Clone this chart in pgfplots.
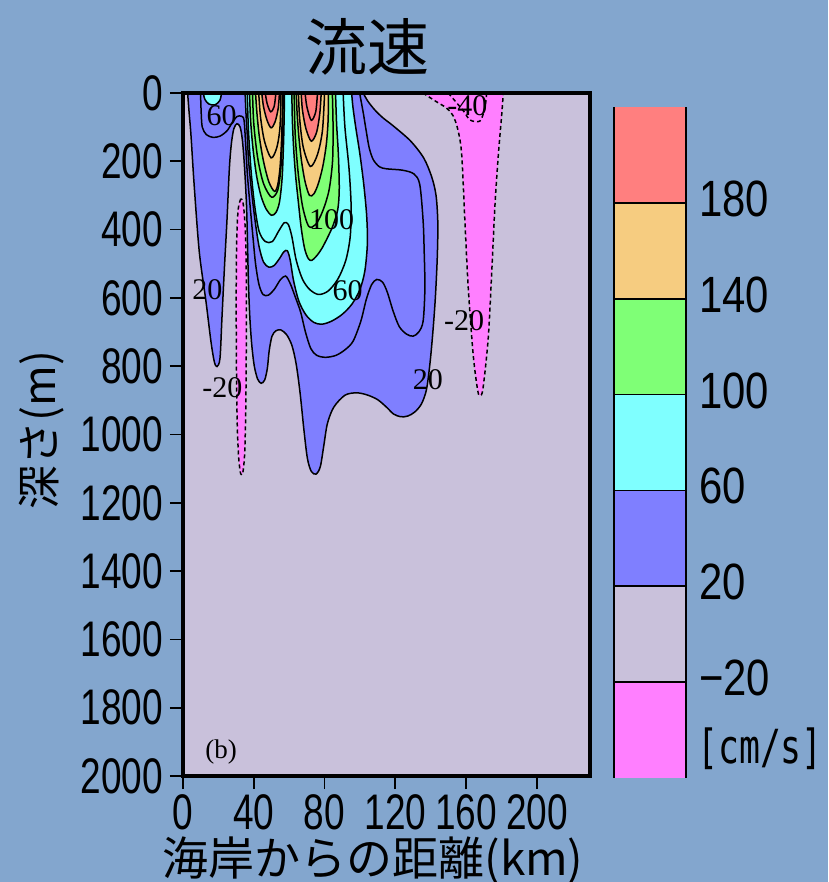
\documentclass[border=0pt]{standalone}
\usepackage{pgfplots}
\pgfplotsset{compat=1.18}
\usepackage{fontspec}
\newfontfamily\tickfont[FakeStretch=0.74]{Liberation Sans}
\newfontfamily\cbfont[FakeStretch=0.82]{Liberation Sans}
\newfontfamily\unitfont[FakeStretch=0.74]{DejaVu Sans Mono}
\newfontfamily\jpfont{Noto Sans CJK JP}
\newfontfamily\labfont{Liberation Serif}
\definecolor{bgc}{RGB}{131,166,206}
\definecolor{lav}{RGB}{201,193,219}
\definecolor{cblue}{RGB}{127,127,255}
\definecolor{ccyan}{RGB}{127,255,255}
\definecolor{cgreen}{RGB}{127,255,118}
\definecolor{corange}{RGB}{246,204,128}
\definecolor{cred}{RGB}{255,127,127}
\definecolor{cmag}{RGB}{255,127,255}
\begin{document}
\begin{tikzpicture}[x=1pt,y=1pt,
  clab/.style={font=\labfont\fontsize{30}{30}\selectfont, inner sep=0pt}]
\fill[bgc] (0,0) rectangle (828,882);
\path[use as bounding box] (0,0) rectangle (828,882);
\begin{axis}[
  at={(183pt,106pt)}, anchor=south west, scale only axis,
  width=407pt, height=683pt,
  xmin=0, xmax=230, ymin=0, ymax=2000, y dir=reverse,
  axis background/.style={fill=lav},
  axis on top,
  axis line style={line width=4pt},
  xtick={0,40,80,120,160,200}, xticklabels={0,40,80,120,160,200},
  ytick={0,200,...,2000},
  yticklabels={0,200,400,600,800,1000,1200,1400,1600,1800,2000},
  xtick pos=bottom, ytick pos=left, tick align=outside,
  major tick length=13pt,
  major tick style={line width=1.8pt, black},
  tick label style={font=\tickfont\fontsize{50}{50}\selectfont, inner sep=0pt},
  yticklabel style={xshift=-7pt},
  xticklabel style={yshift=-5pt},
  cline/.style={draw=black, line width=1.5pt, smooth},
  nline/.style={draw=black, line width=1.5pt, smooth, dash pattern=on 4pt off 3pt},
]
% 20 contour (blue)
\addplot[cline, fill=cblue] coordinates {
(2.6,0) (3.5,60) (4.5,123) (6.3,269) (9.2,465) (13.0,611) (15.8,728) (17.7,787) (19.2,801) (20.9,777) (22.0,660) (23.4,513) (24.9,367) (26.2,221) (27.3,150) (28.7,105) (30.5,90) (32.3,100) (33.6,140) (34.8,220) (35.9,330) (36.5,450) (37.0,560) (37.8,660) (38.9,740) (40.3,800) (42.2,838) (44.2,850) (46.2,840) (47.7,805) (48.7,755) (50.3,712) (52.6,696) (55.4,694) (58.6,708) (61.6,740) (64,795) (66.2,880) (68.3,985) (70.3,1070) (72.5,1108) (75.2,1116) (77.6,1094) (79.5,1035) (81.6,968) (85.2,920) (91.5,885) (98,878) (104,884) (110,898) (115,920) (119,940) (123,948) (127,946) (131,934) (134.8,910) (137.6,868) (139.6,790) (141.2,700) (142.6,600) (143.7,480) (144,380) (143,300) (140.5,245) (136,190) (128.5,140) (118.5,95) (113.5,75) (108.8,52) (104.6,25) (101.8,0)};
% 40 line
\addplot[cline] coordinates {
(9.9,0) (10.3,60) (10.9,100) (13.2,122) (17,130) (21,126) (25,110) (27.9,86) (30.5,69) (33,68) (34.5,80) (35.4,150) (36.4,240) (37.9,330) (39.5,420) (41,500) (42.9,560) (45.2,590) (48.2,592) (51.6,575) (55,547) (58,536) (60.6,558) (63.5,598) (66.5,642) (69.2,700) (72.2,748) (75.5,768) (80.5,774) (86.6,768) (92,750) (96.2,726) (100.5,668) (103.6,604) (106.6,561) (109.5,546) (112.8,554) (115.5,584) (118.7,638) (122.2,684) (126.3,706) (130,712) (133.2,700) (135.7,668) (136.7,571) (136.3,465) (135.7,375) (133.8,268) (130.5,237) (124,226) (115,222) (111,216) (107.5,195) (105.2,160) (103.5,110) (102,62) (100.7,25) (99.8,0)};
% small cyan blob near coast
\addplot[cline, fill=ccyan] coordinates {(11.5,0) (12.3,18) (14.5,32) (18,35) (20.8,22) (21.8,0)};
% 60 contour (cyan)
\addplot[cline, fill=ccyan] coordinates {
(35.1,0) (35.6,60) (36.3,120) (37.1,200) (38.8,290) (40.9,380) (43,450) (45.5,495) (48.5,510) (51.5,505) (54.5,485) (57,465) (59,462) (60.6,490) (62.5,550) (65.5,610) (69.5,650) (74,672) (78.5,677) (84,668) (90,648) (95.5,618) (100,575) (102.8,520) (104.2,440) (103.8,360) (102.2,270) (100,180) (97.6,100) (96,40) (95.3,0)};
% 80 line
\addplot[cline] coordinates {
(36.3,0) (37,110) (38.5,230) (40.5,330) (43,405) (46.5,435) (50.5,435) (54,405) (57.2,380) (59.5,385) (61.5,420) (64,490) (67.5,545) (71.5,575) (76.5,590) (82,580) (87.5,545) (92,490) (94.5,420) (95,330) (93.8,220) (91.5,100) (90.5,0)};
% 100 contour (green)
\addplot[cline, fill=cgreen] coordinates {
(37.6,0) (38.2,80) (39.5,160) (41.5,240) (44,300) (47,340) (50,358) (52.5,350) (54.5,320) (56,250) (56.8,150) (57.2,60) (57.3,0)};
\addplot[cline, fill=cgreen] coordinates {
(61.5,0) (61.8,80) (62.5,160) (63.6,240) (65.2,320) (66.8,395) (68.7,455) (70.8,485) (72.8,490) (75.5,477) (78.5,455) (82,420) (85,385) (87.5,340) (88.3,280) (87.8,180) (86.8,90) (86.2,0)};
% 120 lines
\addplot[cline] coordinates {(39.3,0) (40,90) (42.2,190) (45.5,265) (50,305) (53.5,285) (55.3,220) (56.3,110) (56.6,0)};
\addplot[cline] coordinates {(62.8,0) (63.4,120) (65,230) (67.5,330) (71,390) (75,385) (79,345) (82.5,285) (84.5,200) (84.8,100) (84.4,0)};
% 140 contour (orange)
\addplot[cline, fill=corange] coordinates {
(41,0) (41.8,60) (43.2,130) (45.5,200) (48.5,260) (51.7,288) (53.5,270) (54.8,220) (55.6,150) (56.1,70) (56.4,0)};
\addplot[cline, fill=corange] coordinates {
(64,0) (64.5,60) (65.5,130) (67,200) (69,260) (71.5,300) (74,295) (76.5,265) (79,215) (81,150) (82,80) (82.2,0)};
% 160 lines
\addplot[cline] coordinates {(42.8,0) (43.8,70) (46,140) (49.8,190) (53,160) (54.8,100) (55.4,0)};
\addplot[cline] coordinates {(65.2,0) (66,80) (68,160) (72,215) (76,180) (78.8,110) (80,0)};
% 180 contour (red)
\addplot[cline, fill=cred] coordinates {(44.5,0) (45.5,40) (47.5,80) (49.8,102) (52,85) (53.8,45) (54.5,0)};
\addplot[cline, fill=cred] coordinates {(66.8,0) (67.5,50) (69.5,105) (72.5,141) (75.5,115) (77.3,60) (78.1,0)};
% 200 lines
\addplot[cline] coordinates {(46.5,0) (47.5,30) (49.5,55) (51.5,40) (52.5,0)};
\addplot[cline] coordinates {(69,0) (70,40) (72.5,80) (75,55) (76,0)};
% -20 contours (magenta)
\addplot[nline, fill=cmag] coordinates {
(32.6,310) (31.2,340) (30.4,420) (30.1,550) (30.1,700) (30.3,850) (30.7,980) (31.5,1070) (32.6,1115) (33.8,1112) (34.8,1060) (35.4,950) (35.7,800) (35.8,650) (35.7,500) (35.2,400) (34.3,335) (33.4,312) (32.6,310)};
\addplot[nline, fill=cmag] coordinates {
(135.6,0) (142.4,23) (148.9,44) (152.7,67) (155.5,111) (157.5,181) (159.3,375) (161.2,571) (164,767) (166.5,870) (167.8,886) (169.5,866) (172.5,717) (174.5,521) (176.3,328) (178.2,181) (180.1,64) (181,0)};
% -40 line
\addplot[nline] coordinates {(149.9,0) (158.4,52) (162.2,79) (167.8,82) (170.6,44) (171.6,0)};
% contour labels
\node[clab] at (axis cs:21.8,66) {60};
\node[clab] at (axis cs:13.8,577) {20};
\node[clab] at (axis cs:22.2,862) {-20};
\node[clab] at (axis cs:84,370) {100};
\node[clab] at (axis cs:93,580) {60};
\node[clab] at (axis cs:158.8,666) {-20};
\node[clab] at (axis cs:138.4,840) {20};
\node[clab] at (axis cs:160.7,37) {-40};
\node[clab, font=\labfont\fontsize{27}{27}\selectfont] at (axis cs:21.5,1930) {(b)};
\end{axis}
% colour bar
\begin{axis}[
  at={(614pt,104pt)}, anchor=south west, scale only axis,
  width=72pt, height=671pt, clip=false,
  xmin=0, xmax=1, ymin=-60, ymax=220,
  axis line style={draw=none},
  xtick=\empty,
  ytick={-20,20,60,100,140,180},
  yticklabels={−20,20,60,100,140,180},
  yticklabel pos=right, major tick length=0pt,
  major tick style={draw=none},
  yticklabel style={font=\cbfont\fontsize{51}{51}\selectfont, anchor=west, inner sep=0pt, xshift=13pt, yshift=4pt},
]
\addplot[fill=cmag, draw=none] coordinates {(0,-60) (1,-60) (1,-20) (0,-20)};
\addplot[fill=lav, draw=none] coordinates {(0,-20) (1,-20) (1,20) (0,20)};
\addplot[fill=cblue, draw=none] coordinates {(0,20) (1,20) (1,60) (0,60)};
\addplot[fill=ccyan, draw=none] coordinates {(0,60) (1,60) (1,100) (0,100)};
\addplot[fill=cgreen, draw=none] coordinates {(0,100) (1,100) (1,140) (0,140)};
\addplot[fill=corange, draw=none] coordinates {(0,140) (1,140) (1,180) (0,180)};
\addplot[fill=cred, draw=none] coordinates {(0,180) (1,180) (1,220) (0,220)};
\addplot[black, line width=1.8pt] coordinates {(0,-20) (1,-20)};
\addplot[black, line width=1.8pt] coordinates {(0,20) (1,20)};
\addplot[black, line width=1.8pt] coordinates {(0,60) (1,60)};
\addplot[black, line width=1.8pt] coordinates {(0,100) (1,100)};
\addplot[black, line width=1.8pt] coordinates {(0,140) (1,140)};
\addplot[black, line width=1.8pt] coordinates {(0,180) (1,180)};
\addplot[black, line width=2.4pt] coordinates {(0,-60) (0,220)};
\addplot[black, line width=2.4pt] coordinates {(1,-60) (1,220)};
\node[anchor=west, inner sep=0pt, font=\unitfont\fontsize{47}{47}\selectfont] at (axis cs:1,-48) {\hspace{11pt}[cm/s]};
\end{axis}
% titles
\node[inner sep=0pt, font=\jpfont\fontsize{62}{62}\selectfont] at (367,835) {流速};
\node[inner sep=0pt, font=\jpfont\fontsize{46}{46}\selectfont] at (373,21) {海岸からの距離(km)};
\node[inner sep=0pt, font=\jpfont\fontsize{44}{44}\selectfont, rotate=90] at (42,452) {深さ(m)};
\end{tikzpicture}
\end{document}
